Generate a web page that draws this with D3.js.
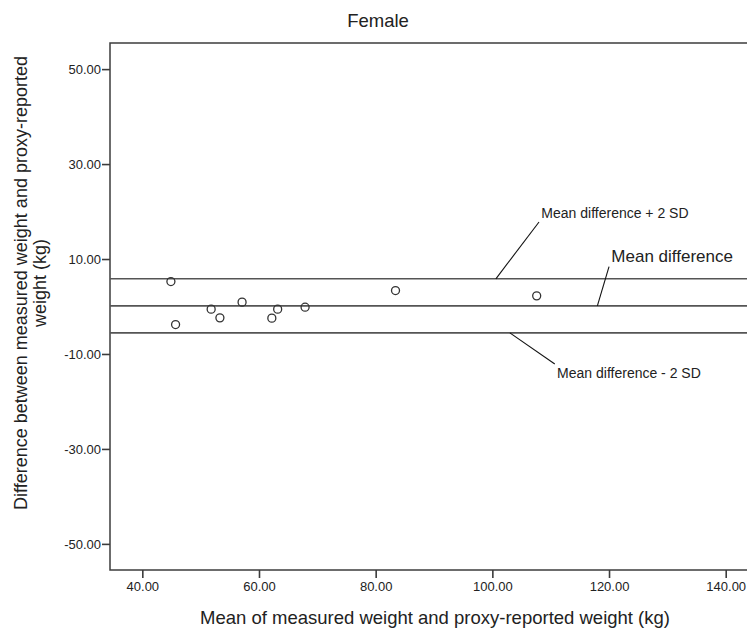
<!DOCTYPE html>
<html>
<head>
<meta charset="utf-8">
<script src="https://cdn.jsdelivr.net/npm/d3@7"></script>
<style>
  body { margin: 0; background: #fff; }
  svg { display: block; font-family: "Liberation Sans", Arial, sans-serif; }
</style>
</head>
<body>
<svg id="chart" width="747" height="630"></svg>
<script>
// mean of the two weights (kg)
let meanWeights = [44.9, 45.7, 51.8, 53.3, 57.1, 62.2, 63.2, 67.9, 83.4, 107.6];
// measured minus proxy-reported (kg)
let differences = [5.26, -3.8, -0.56, -2.39, 0.92, -2.45, -0.56, -0.14, 3.36, 2.24];

let xTicks = [40, 60, 80, 100, 120, 140];
let yTicks = [50, 30, 10, -10, -30, -50];

let meanDiff = 0.14;
let upperLimit = 5.83;
let lowerLimit = -5.55;

// annotation labels: text, label anchor and leader line in data units
let annLabels = ['Mean difference + 2 SD', 'Mean difference', 'Mean difference - 2 SD'];
let annText = [[108.4, 18.6], [120.4, 9.3], [111.1, -15.1]];
let annLeader = [
	[[108.0, 17.8], [100.6, upperLimit]],
	[[120.0, 8.4], [118.0, meanDiff]],
	[[103.0, lowerLimit], [110.7, -12.1]]
];

let svg = d3.select('#chart');

let plotLeft = 110, plotTop = 43, plotBottom = 570, plotRight = 747;

let xScale = d3.scaleLinear().domain([34.46, 143.65]).range([plotLeft, plotRight]);
let yScale = d3.scaleLinear().domain([-55.5, 55.5]).range([plotBottom, plotTop]);

let axisColor = '#3c3c3c';
let fmt = (d) => d.toFixed(2);

// frame (right side runs off the picture)
svg.append('rect')
	.attr('x', plotLeft)
	.attr('y', plotTop)
	.attr('width', plotRight + 20 - plotLeft)
	.attr('height', plotBottom - plotTop)
	.attr('fill', 'none')
	.attr('stroke', axisColor)
	.attr('stroke-width', 1.5);

// reference lines
[upperLimit, meanDiff, lowerLimit].forEach((v) => {
	svg.append('line')
		.attr('x1', plotLeft)
		.attr('x2', plotRight)
		.attr('y1', yScale(v))
		.attr('y2', yScale(v))
		.attr('stroke', '#555')
		.attr('stroke-width', 1.6);
});

// axes
let xAxis = svg.append('g')
	.attr('transform', 'translate(0,' + plotBottom + ')')
	.call(d3.axisBottom(xScale).tickValues(xTicks).tickFormat(fmt).tickSize(8).tickPadding(4));

let yAxis = svg.append('g')
	.attr('transform', 'translate(' + plotLeft + ',0)')
	.call(d3.axisLeft(yScale).tickValues(yTicks).tickFormat(fmt).tickSize(8).tickPadding(1));

[xAxis, yAxis].forEach((ax) => {
	ax.select('.domain').remove();
	ax.selectAll('.tick line').attr('stroke', axisColor).attr('stroke-width', 1.6);
	ax.selectAll('.tick text')
		.attr('fill', '#222')
		.style('font-size', '13px')
		.style('font-family', '"Liberation Sans", Arial, sans-serif');
});
yAxis.selectAll('.tick text').attr('dy', '0.36em');

// points
svg.append('g')
	.selectAll('circle')
	.data(meanWeights)
	.enter()
	.append('circle')
	.attr('cx', (d) => xScale(d))
	.attr('cy', (d, i) => yScale(differences[i]))
	.attr('r', 4)
	.attr('fill', 'none')
	.attr('stroke', '#333')
	.attr('stroke-width', 1.3);

// annotations
annLeader.forEach((seg) => {
	svg.append('line')
		.attr('x1', xScale(seg[0][0]))
		.attr('y1', yScale(seg[0][1]))
		.attr('x2', xScale(seg[1][0]))
		.attr('y2', yScale(seg[1][1]))
		.attr('stroke', '#111')
		.attr('stroke-width', 1.1);
});

annLabels.forEach((t, i) => {
	svg.append('text')
		.attr('x', xScale(annText[i][0]))
		.attr('y', yScale(annText[i][1]))
		.attr('fill', '#222')
		.style('font-size', i === 1 ? '17px' : '14px')
		.text(t);
});

// titles
svg.append('text')
	.attr('x', 378)
	.attr('y', 27)
	.attr('text-anchor', 'middle')
	.attr('fill', '#222')
	.style('font-size', '18.5px')
	.text('Female');

svg.append('text')
	.attr('x', 435)
	.attr('y', 624)
	.attr('text-anchor', 'middle')
	.attr('fill', '#222')
	.style('font-size', '18.5px')
	.text('Mean of measured weight and proxy-reported weight (kg)');

let yLabel = svg.append('text')
	.attr('transform', 'translate(27,283) rotate(-90)')
	.attr('text-anchor', 'middle')
	.attr('fill', '#222')
	.style('font-size', '18px');
yLabel.append('tspan').attr('x', 0).attr('y', 0).text('Difference between measured weight and proxy-reported');
yLabel.append('tspan').attr('x', 0).attr('y', 19).text('weight (kg)');
</script>
</body>
</html>
